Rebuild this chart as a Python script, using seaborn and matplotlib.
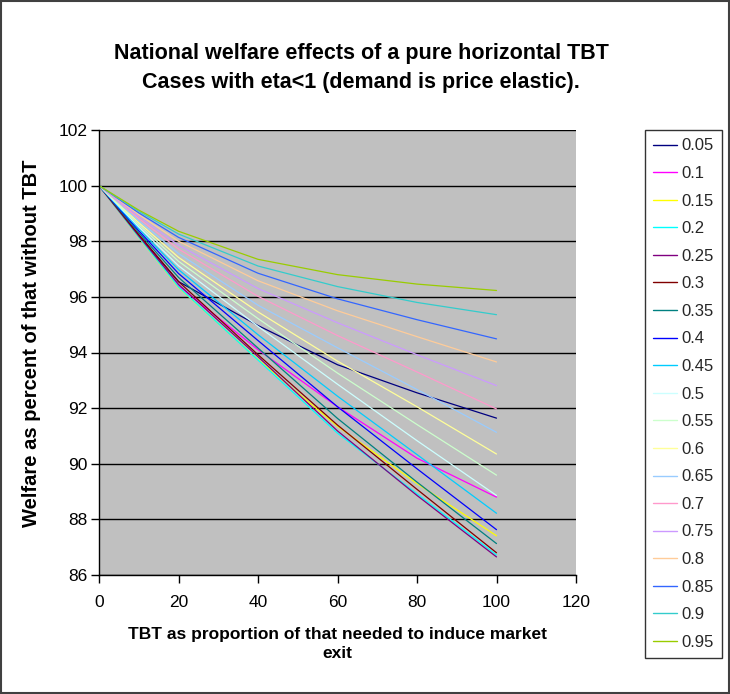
import numpy as np
import pandas as pd
import matplotlib
matplotlib.use("Agg")
import matplotlib.pyplot as plt
import seaborn as sns
from matplotlib.lines import Line2D
from matplotlib.patches import Rectangle

# ---- data ----
tbt = [0, 10, 20, 40, 60, 80, 100]
etas = ["0.05", "0.1", "0.15", "0.2", "0.25", "0.3", "0.35", "0.4", "0.45", "0.5",
        "0.55", "0.6", "0.65", "0.7", "0.75", "0.8", "0.85", "0.9", "0.95"]
w_005 = [100, 98.22, 96.55, 94.97, 93.56, 92.55, 91.64]
w_010 = [100, 98.16, 96.40, 94.10, 92.05, 90.20, 88.80]
w_015 = [100, 98.14, 96.34, 93.75, 91.35, 89.29, 87.41]
w_020 = [100, 98.15, 96.36, 93.73, 91.10, 88.92, 86.72]
w_025 = [100, 98.19, 96.45, 93.85, 91.18, 88.86, 86.65]
w_030 = [100, 98.24, 96.55, 93.92, 91.39, 89.08, 86.80]
w_035 = [100, 98.31, 96.70, 94.16, 91.63, 89.34, 87.13]
w_040 = [100, 98.38, 96.84, 94.43, 92.05, 89.82, 87.63]
w_045 = [100, 98.45, 96.98, 94.64, 92.43, 90.33, 88.22]
w_050 = [100, 98.52, 97.12, 94.94, 92.86, 90.83, 88.86]
w_055 = [100, 98.60, 97.28, 95.22, 93.26, 91.41, 89.59]
w_060 = [100, 98.67, 97.42, 95.46, 93.69, 92.05, 90.35]
w_065 = [100, 98.74, 97.56, 95.70, 94.17, 92.67, 91.13]
w_070 = [100, 98.82, 97.72, 96.02, 94.61, 93.30, 91.97]
w_075 = [100, 98.89, 97.86, 96.30, 95.07, 93.92, 92.81]
w_080 = [100, 98.96, 98.00, 96.58, 95.50, 94.57, 93.66]
w_085 = [100, 99.02, 98.14, 96.85, 95.93, 95.18, 94.49]
w_090 = [100, 99.08, 98.26, 97.11, 96.37, 95.80, 95.36]
w_095 = [100, 99.12, 98.36, 97.35, 96.80, 96.46, 96.23]
series = [w_005, w_010, w_015, w_020, w_025, w_030, w_035, w_040, w_045, w_050,
          w_055, w_060, w_065, w_070, w_075, w_080, w_085, w_090, w_095]
colors = ["#000080", "#FF00FF", "#FFFF00", "#00FFFF", "#800080", "#800000", "#008080",
          "#0000FF", "#00CCFF", "#CCFFFF", "#CCFFCC", "#FFFF99", "#99CCFF", "#FF99CC",
          "#CC99FF", "#FFCC99", "#3366FF", "#33CCCC", "#99CC00"]

title = "National welfare effects of a pure horizontal TBT\nCases with eta<1 (demand is price elastic)."
xlabel = "TBT as proportion of that needed to induce market\nexit"
ylabel = "Welfare as percent of that without TBT"

rows = []
for eta, vals in zip(etas, series):
    for x, v in zip(tbt, vals):
        rows.append({"TBT": x, "Welfare": v, "eta": eta})
df = pd.DataFrame(rows)

sns.set_theme(style="ticks")
plt.rcParams["font.family"] = ["Liberation Sans", "DejaVu Sans"]

W, H = 730, 694
fig = plt.figure(figsize=(W / 100, H / 100), dpi=100)
fig.patch.set_facecolor("white")
ax = fig.add_axes([99 / W, 1 - 575 / H, (576 - 99) / W, (575 - 130) / H])
ax.set_facecolor("#C0C0C0")

sns.lineplot(data=df, x="TBT", y="Welfare", hue="eta", hue_order=etas,
             palette=dict(zip(etas, colors)), linewidth=0.9, ax=ax, legend=False,
             estimator=None, sort=False)

ax.set_xlim(0, 120)
ax.set_ylim(86, 102)
ax.set_xticks(np.arange(0, 121, 20))
ax.set_yticks(np.arange(86, 103, 2))
ax.yaxis.grid(True, color="black", linewidth=1.0)
ax.xaxis.grid(False)
ax.set_axisbelow(True)
for s in ["top", "right"]:
    ax.spines[s].set_visible(False)
for s in ["left", "bottom"]:
    ax.spines[s].set_color("black")
    ax.spines[s].set_linewidth(1.0)
ax.tick_params(axis="both", direction="out", length=5.5, width=1, color="black",
               labelsize=12.5, labelcolor="black")
ax.tick_params(axis="x", pad=9)
ax.tick_params(axis="y", pad=3)

ax.set_xlabel(xlabel, fontsize=12.5, fontweight="bold", color="black", linespacing=1.35)
ax.xaxis.set_label_coords(0.5, (575 - 627) / 445)
ax.set_ylabel(ylabel, fontsize=14.5, fontweight="bold", color="black")
ax.yaxis.set_label_coords((41 - 99) / 477, 0.52)

fig.text(361 / W, 1 - 68 / H, title, ha="center", va="center", fontsize=15.5,
         fontweight="bold", color="black", linespacing=1.45)

# legend
handles = [Line2D([0], [0], color=c, linewidth=1.0) for c in colors]
leg = fig.legend(handles, etas, loc="upper left", bbox_to_anchor=(645 / W, 1 - 130 / H),
                 frameon=True, fancybox=False, edgecolor="black", fontsize=12,
                 handlelength=1.4, handletextpad=0.3, labelspacing=0.755,
                 borderpad=0.5, borderaxespad=0)
leg.get_frame().set_linewidth(1.0)

# outer frame
fig.patches.append(Rectangle((0.001, 0.001), 0.997, 0.997, transform=fig.transFigure,
                             fill=False, edgecolor="#404040", linewidth=1.5))

fig.savefig("out.png", dpi=100)
